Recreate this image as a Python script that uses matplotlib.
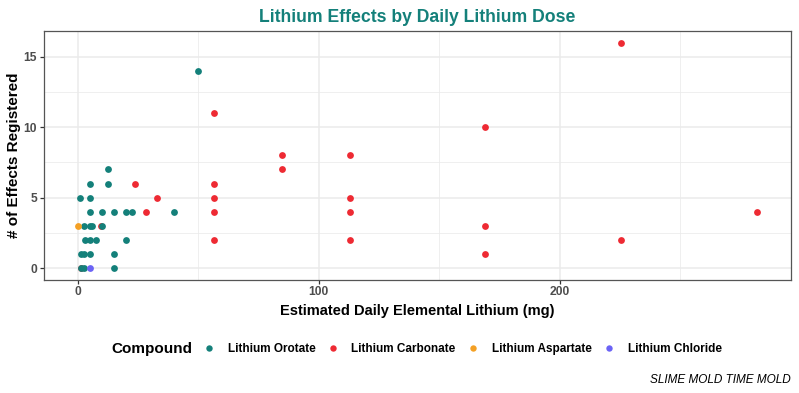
import matplotlib
matplotlib.use("Agg")
import matplotlib.pyplot as plt
from matplotlib.lines import Line2D
from matplotlib.ticker import MultipleLocator

# ---- data ----
compounds = ["Lithium Orotate", "Lithium Carbonate", "Lithium Aspartate", "Lithium Chloride"]
colors = ["#14807A", "#EE2A33", "#F4A024", "#6B63F5"]

carbonate_x = [1.1, 9.4, 23.5, 28.2, 32.9, 56.4, 56.4, 56.4, 56.4, 56.4,
               84.6, 84.6, 112.8, 112.8, 112.8, 112.8, 169.2, 169.2, 169.2,
               225.6, 225.6, 282.0]
carbonate_y = [0, 3, 6, 4, 5, 11, 6, 5, 4, 2,
               8, 7, 8, 5, 4, 2, 10, 3, 1,
               16, 2, 4]

orotate_x = [50, 12.5, 5, 12.5, 1, 5, 5, 10, 15, 20, 22.5, 40,
             2.5, 5, 6, 10, 3, 5, 7.5, 20, 1.3, 2.6, 5, 15,
             1.3, 2.6, 15]
orotate_y = [14, 7, 6, 6, 5, 5, 4, 4, 4, 4, 4, 4,
             3, 3, 3, 3, 2, 2, 2, 2, 1, 1, 1, 1,
             0, 0, 0]

aspartate_x = [0.0]
aspartate_y = [3]

chloride_x = [5.0]
chloride_y = [0]

title = "Lithium Effects by Daily Lithium Dose"
xlabel = "Estimated Daily Elemental Lithium (mg)"
ylabel = "# of Effects Registered"
caption = "SLIME MOLD TIME MOLD"

plt.rcParams['font.family'] = ['Liberation Sans', 'DejaVu Sans']

fig = plt.figure(figsize=(7.99, 3.93), dpi=100)
ax = fig.add_axes([0.0551, 0.2888, 0.9349, 0.6316])

s = 24
ax.scatter(carbonate_x, carbonate_y, s=s, color=colors[1], linewidths=0, zorder=3)
ax.scatter(orotate_x, orotate_y, s=s, color=colors[0], linewidths=0, zorder=3)
ax.scatter(aspartate_x, aspartate_y, s=s, color=colors[2], linewidths=0, zorder=3)
ax.scatter(chloride_x, chloride_y, s=s, color=colors[3], linewidths=0, zorder=3)

ax.set_xlim(-14.1, 296.1)
ax.set_ylim(-0.8, 16.8)
ax.xaxis.set_major_locator(MultipleLocator(100))
ax.xaxis.set_minor_locator(MultipleLocator(50))
ax.yaxis.set_major_locator(MultipleLocator(5))
ax.yaxis.set_minor_locator(MultipleLocator(2.5))

ax.grid(True, which='major', color='#EBEBEB', linewidth=1.1, zorder=0)
ax.grid(True, which='minor', color='#EBEBEB', linewidth=0.55, zorder=0)
ax.set_axisbelow(True)
for sp in ax.spines.values():
    sp.set_color('#555555')
    sp.set_linewidth(0.9)

ax.tick_params(which='major', length=3, width=0.9, color='#333333',
               labelsize=8.7, labelcolor='#4D4D4D', pad=2)
ax.tick_params(which='minor', length=0)
for lab in ax.get_xticklabels() + ax.get_yticklabels():
    lab.set_fontweight('bold')

ax.set_xlabel(xlabel, fontsize=10.5, fontweight='bold', color='black', labelpad=4)
ax.set_ylabel(ylabel, fontsize=11, fontweight='bold', color='black', labelpad=2)
ax.set_title(title, fontsize=12.7, fontweight='bold', color=colors[0], pad=7)

# legend
fig.text(0.140, 1 - 349 / 393, "Compound", fontsize=11, fontweight='bold',
         ha='left', va='center')
handles = [Line2D([0], [0], marker='o', linestyle='', markersize=4.6,
                  markerfacecolor=c, markeredgewidth=0) for c in colors]
leg = fig.legend(handles, compounds, loc='center left', ncol=4,
                 bbox_to_anchor=(0.254, 1 - 349 / 393), frameon=False,
                 prop={'weight': 'bold', 'size': 8.5},
                 handletextpad=1.1, columnspacing=0.95, handlelength=1.0,
                 borderaxespad=0, borderpad=0)

fig.text(791 / 799, 1 - 380 / 393, caption, fontsize=8.5, fontstyle='italic',
         ha='right', va='center')

fig.savefig("out.png", dpi=100)
